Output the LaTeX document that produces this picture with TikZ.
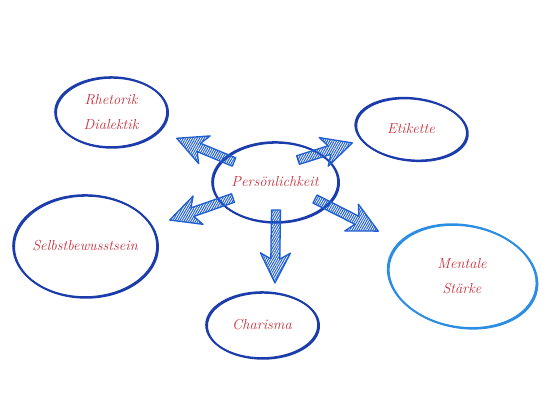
\documentclass[tikz,border=0pt]{standalone}
\usetikzlibrary{shapes.geometric,patterns.meta}
\definecolor{eblue}{HTML}{1C3CAC}
\definecolor{lblue}{HTML}{2C8EE2}
\definecolor{tred}{HTML}{C9303C}
\definecolor{ablue}{HTML}{1F5ED0}
\begin{document}
\begin{tikzpicture}[x=1pt,y=-1pt,
  bubble/.style={ellipse, draw=#1, line width=1.6pt, inner sep=0pt,
    postaction={draw=#1, line width=1.8pt, transform canvas={xshift=1.1pt,yshift=-0.8pt}}},
  bubble/.default=eblue,
  lbl/.style={text=tred, font=\fontsize{14.5}{25}\selectfont\itshape, align=center},
  arrbody/.style={draw=ablue, line width=1.3pt, line join=round,
    pattern={Lines[angle=60,distance=2pt,line width=1pt]}, pattern color=ablue},
  sarrow/.pic={
    \draw[arrbody] (0,4.5) -- ({#1-24},4.5) -- ({#1-30},15) -- (#1,0)
      -- ({#1-30},-15) -- ({#1-24},-4.5) -- (0,-4.5) -- cycle;}]
\useasboundingbox (0,0) rectangle (550,400);
\fill[white] (0,0) rectangle (550,400);
% ellipses
\node[bubble, minimum width=126, minimum height=80] (p) at (275,182) {};
\node[lbl] (pt) at (p) {Persönlichkeit};
\node[bubble, minimum width=112, minimum height=70] (rd) at (111,112) {};
\node[lbl] (rdt) at (rd) {Rhetorik\\Dialektik};
\node[bubble, minimum width=112, minimum height=62, rotate=-6] (et) at (411,129) {};
\node[lbl] (ett) at (et) {Etikette};
\node[bubble, minimum width=144, minimum height=102] (sb) at (85,246) {};
\node[lbl] (sbt) at (sb) {Selbstbewusstsein};
\node[bubble=lblue, minimum width=150, minimum height=102, rotate=-10] (ms) at (462,276) {};
\node[lbl] (mst) at (ms) {Mentale\\Stärke};
\node[bubble, minimum width=112, minimum height=66] (ch) at (262,325) {};
\node[lbl] (cht) at (ch) {Charisma};
% arrows (tail position, direction, length)
\pic[rotate=157.5] (a1) at (234,162) {sarrow=62};
\pic[rotate=17.5] (a2) at (298,160) {sarrow=57};
\pic[rotate=199.2] (a3) at (233,198) {sarrow=67};
\pic[rotate=269.2] (a4) at (276,210) {sarrow=73};
\pic[rotate=-26.9] (a5) at (315,199) {sarrow=71};
\end{tikzpicture}
\end{document}
